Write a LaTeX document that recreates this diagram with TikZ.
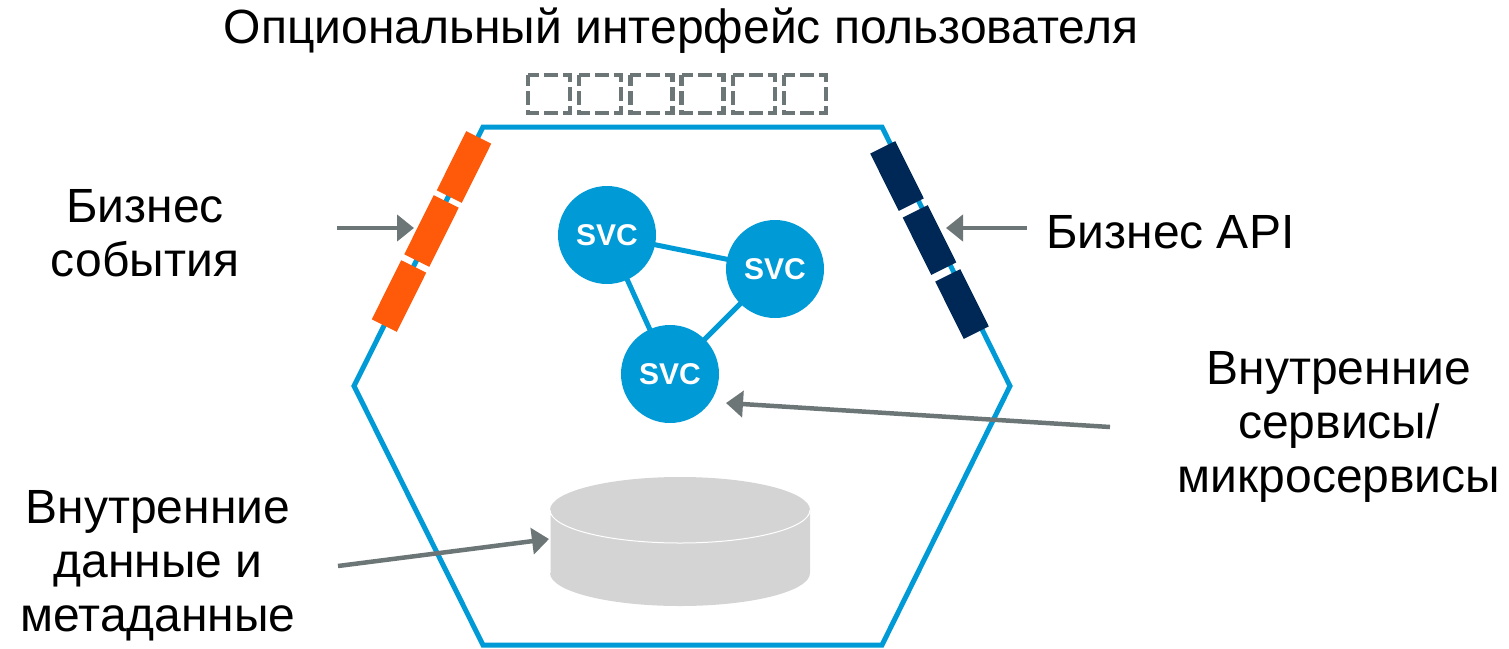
\documentclass[tikz,border=0pt]{standalone}
\usepackage{fontspec}
\setmainfont{Liberation Sans}
\usetikzlibrary{arrows.meta}
\pgfdeclarelayer{bg}
\pgfsetlayers{bg,main}
\definecolor{hexblue}{HTML}{009AD6}
\definecolor{evorange}{HTML}{FF5A0A}
\definecolor{apinavy}{HTML}{002856}
\definecolor{arrgray}{HTML}{6D7676}
\definecolor{cylgray}{HTML}{D4D4D4}
\tikzset{
  lbl/.style={font=\fontsize{48}{54}\selectfont, align=center, inner sep=0pt, text=black},
  svc/.style={circle, fill=hexblue, minimum size=98pt, inner sep=0pt, text=white, font=\fontsize{30}{30}\selectfont\bfseries},
  svclink/.style={draw=hexblue, line width=5pt},
  evbar/.style={rectangle, fill=evorange, minimum width=66pt, minimum height=28pt, inner sep=0pt, rotate=63.5},
  apibar/.style={rectangle, fill=apinavy, minimum width=64pt, minimum height=28pt, inner sep=0pt, rotate=-63.5},
  arr/.style={draw=arrgray, line width=4.5pt, -{Triangle[length=17pt,width=26pt]}},
  uibox/.style={draw=arrgray, line width=4.5pt, dash pattern=on 14pt off 5pt, dash phase=3pt},
}
\begin{document}
\begin{tikzpicture}[x=1pt,y=-1pt]
\useasboundingbox (0,0) rectangle (1509,648);
% hexagon
\draw[hexblue, line width=5pt, line join=miter] (483,127) -- (882,127) -- (1010,386) -- (882,645) -- (483,645) -- (354,386) -- cycle;
% optional UI boxes
\foreach \i in {0,...,5} {
  \draw[uibox] ({528+51.2*\i},75) rectangle ({528+51.2*\i+42},113);
}
\node[lbl] (title) at (681,31) {Опциональный интерфейс пользователя};
% event bars
\node[evbar] (e1) at (464,167) {};
\node[evbar] (e2) at (431.5,231) {};
\node[evbar] (e3) at (399,296) {};
% api bars
\node[apibar] (a1) at (897,176) {};
\node[apibar] (a2) at (929.5,240) {};
\node[apibar] (a3) at (962,304) {};
% services
\node[svc] (s1) at (607,235) {SVC};
\node[svc] (s2) at (775,269) {SVC};
\node[svc] (s3) at (670,374) {SVC};
\begin{pgfonlayer}{bg}
\draw[svclink] (s1.center) -- (s2.center);
\draw[svclink] (s1.center) -- (s3.center);
\draw[svclink] (s2.center) -- (s3.center);
\end{pgfonlayer}
% database cylinder
\fill[cylgray] (550,510) -- (550,573) arc[start angle=180,end angle=360,x radius=130pt,y radius=33pt] -- (810,510) arc[start angle=0,end angle=180,x radius=130pt,y radius=33pt] -- cycle;
\draw[white, line width=1pt] (550,573) -- (550,510) arc[start angle=180,end angle=360,x radius=130pt,y radius=33pt];
\coordinate (db) at (549,539);
% labels
\node[lbl] (evlbl) at (145,233) {Бизнес\\события};
\node[lbl, anchor=west] (apilbl) at (1046,232) {Бизнес API};
\node[lbl] (svclbl) at (1339,427) {Внутренние\\сервисы/\\микросервисы};
\node[lbl] (datalbl) at (158,566) {Внутренние\\данные и\\метаданные};
% arrows
\coordinate (evs) at (337,228);
\coordinate (evt) at (414,228);
\coordinate (aps) at (1027,228);
\coordinate (apt) at (946,228);
\coordinate (svs) at (1110,427);
\coordinate (svt) at (726,403);
\coordinate (dbs) at (338,566);
\draw[arr] (evs) -- (evt);
\draw[arr] (aps) -- (apt);
\draw[arr] (svs) -- (svt);
\draw[arr] (dbs) -- (db);
\end{tikzpicture}
\end{document}
